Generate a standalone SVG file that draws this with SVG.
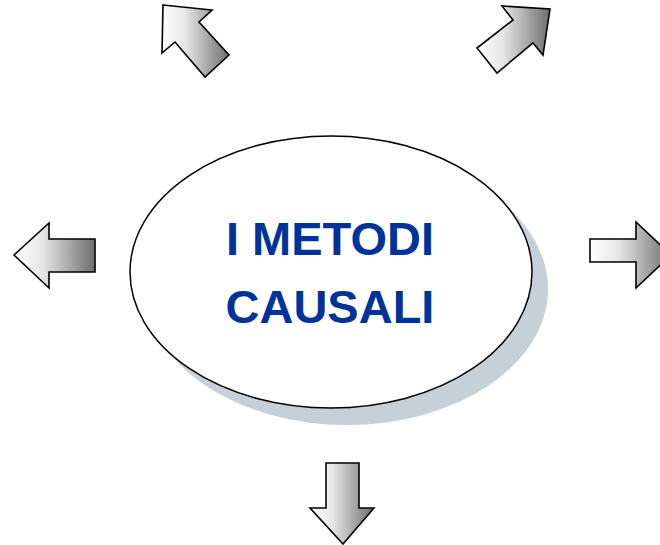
<svg xmlns="http://www.w3.org/2000/svg" width="660" height="545" viewBox="0 0 660 545">
<defs>
<linearGradient id="g" x1="0" y1="0" x2="1" y2="0">
<stop offset="0" stop-color="#ffffff"/>
<stop offset="0.35" stop-color="#e6e6e6"/>
<stop offset="1" stop-color="#6e6e6e"/>
</linearGradient>
<style>
.arr{fill:url(#g);stroke:#000;stroke-width:1.6;stroke-linejoin:miter}
.t{font-family:"Liberation Sans",Arial,sans-serif;font-weight:bold;font-size:47px;fill:#003399;text-anchor:middle}
</style>
</defs>
<rect width="660" height="545" fill="#fff"/>
<g id="center">
<ellipse cx="347" cy="289" rx="201" ry="136" fill="#c5d0d8"/>
<ellipse cx="331" cy="272" rx="201" ry="136" fill="#fff" stroke="#000" stroke-width="1.5"/>
<text class="t" x="330" y="255">I METODI</text>
<text class="t" x="330" y="323">CAUSALI</text>
</g>
<g id="connectors">
<g id="arrow-up-left"><polygon class="arr" points="163,5 212,10 199,22 229,55 205,77 175,42 162,53"/></g>
<g id="arrow-up-right"><polygon class="arr" points="550,9 543,55 533,43 497,73 477,48 513,20 502,6"/></g>
<g id="arrow-left"><polygon class="arr" points="14,255 49,223 49,239 95,239 95,272 49,272 49,288"/></g>
<g id="arrow-right"><polygon class="arr" points="671,255 636,222 636,239 590,239 590,262 636,262 636,288"/></g>
<g id="arrow-down"><polygon class="arr" points="326,463 359,463 359,508 374,508 343,544 310,508 326,508"/></g>
</g>
</svg>
